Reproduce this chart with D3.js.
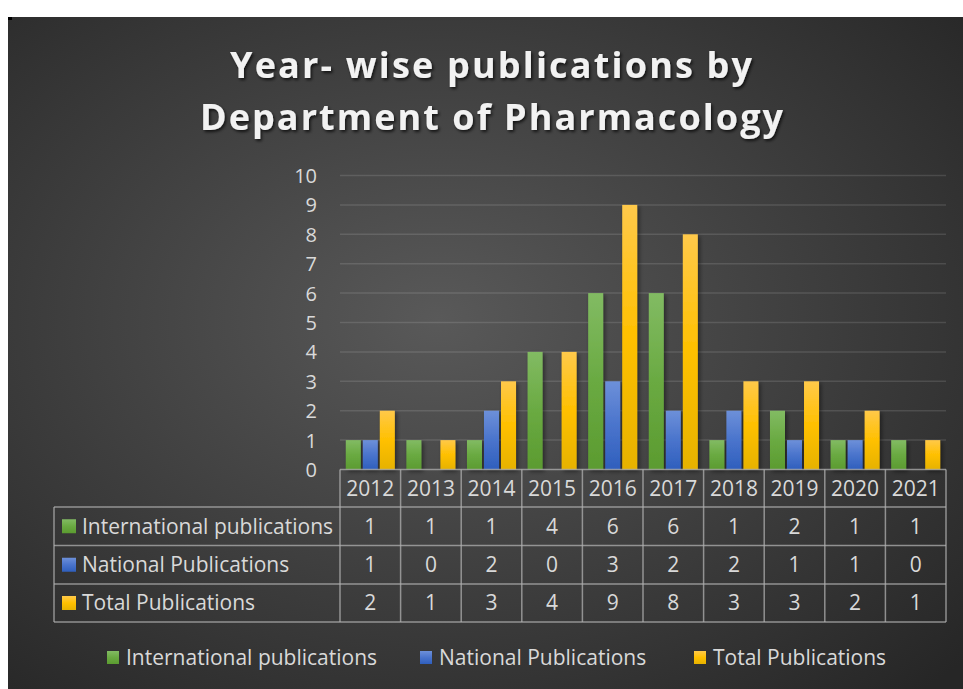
<!DOCTYPE html>
<html><head><meta charset="utf-8">
<script src="https://cdn.jsdelivr.net/npm/d3@7"></script>
<style>
html,body{margin:0;padding:0;background:#fff;}
svg{display:block;}
text{font-family:"Open Sans", Lato, sans-serif;}
</style></head>
<body>
<script>
const years = ["2012","2013","2014","2015","2016","2017","2018","2019","2020","2021"];
const seriesNames = ["International publications","National Publications","Total Publications"];
const international = [1,1,1,4,6,6,1,2,1,1];
const national = [1,0,2,0,3,2,2,1,1,0];
const total = [2,1,3,4,9,8,3,3,2,1];
const yTicks = [0,1,2,3,4,5,6,7,8,9,10];
const titleLines = ["Year- wise publications by","Department of Pharmacology"];

const seriesValues = [international, national, total];
const W = 963, H = 689;
const svg = d3.select("body").append("svg").attr("width", W).attr("height", H);
const defs = svg.append("defs");

// background gradient
const bg = defs.append("radialGradient").attr("id","bg")
  .attr("cx","0.45").attr("cy","0.45").attr("r","0.75");
bg.append("stop").attr("offset","0").attr("stop-color","#595959");
bg.append("stop").attr("offset","1").attr("stop-color","#262626");

const colors = [
  ["#82bb63","#6aaa42","#5b9b30"],
  ["#6d90d9","#4a74cc","#2f5fbd"],
  ["#ffc94a","#ffc000","#e6b200"]
];
colors.forEach((c,i)=>{
  const g = defs.append("linearGradient").attr("id","g"+i).attr("x1",0).attr("y1",0).attr("x2",0).attr("y2",1);
  g.append("stop").attr("offset","0").attr("stop-color",c[0]);
  g.append("stop").attr("offset","0.5").attr("stop-color",c[1]);
  g.append("stop").attr("offset","1").attr("stop-color",c[2]);
});
const sh = defs.append("filter").attr("id","sh").attr("x","-20%").attr("y","-20%").attr("width","160%").attr("height","160%");
sh.append("feDropShadow").attr("dx",2).attr("dy",2).attr("stdDeviation",2).attr("flood-color","#000").attr("flood-opacity",0.45);
const tsh = defs.append("filter").attr("id","tsh").attr("x","-10%").attr("y","-30%").attr("width","120%").attr("height","160%");
tsh.append("feDropShadow").attr("dx",1.5).attr("dy",2).attr("stdDeviation",1.5).attr("flood-color","#000").attr("flood-opacity",0.7);

svg.append("rect").attr("x",8).attr("y",17).attr("width",W-8).attr("height",H-17).attr("fill","url(#bg)");
svg.append("rect").attr("x",8).attr("y",17).attr("width",4).attr("height",3).attr("fill","#000");

// title
const titleStart = [230, 200], titleLen = [522, 583], titleBase = [78, 130];
svg.selectAll("text.title").data(titleLines).join("text").attr("class","title")
  .attr("x",(d,i)=>titleStart[i]).attr("y",(d,i)=>titleBase[i])
  .attr("font-family","Lato, sans-serif")
  .attr("font-size",36).attr("font-weight","bold").attr("fill","#f2f2f2")
  .attr("textLength",(d,i)=>titleLen[i]).attr("lengthAdjust","spacing")
  .attr("filter","url(#tsh)")
  .text(d=>d);

// scales
const pLeft = 340, pRight = 946, pTop = 175.5, pBottom = 469.5;
const x0 = d3.scaleBand().domain(years).range([pLeft,pRight]).padding(0);
const x1 = d3.scaleBand().domain([0,1,2]).range([0,x0.bandwidth()]).paddingInner(0.118).paddingOuter(0.34);
const y = d3.scaleLinear().domain([0,10]).range([pBottom,pTop]);

// gridlines
svg.append("g").selectAll("line").data(yTicks.filter(t=>t>0)).join("line")
  .attr("x1",pLeft).attr("x2",pRight).attr("y1",d=>y(d)).attr("y2",d=>y(d))
  .attr("stroke","#ffffff").attr("stroke-opacity",0.12).attr("stroke-width",1.5);

// y axis labels
const yAxis = d3.axisLeft(y).tickValues(yTicks).tickSize(0).tickPadding(0).tickFormat(d3.format("d"));
const ya = svg.append("g").attr("transform",`translate(317,0)`).call(yAxis);
ya.select(".domain").remove();
ya.selectAll("text").attr("font-size",20).attr("fill","#d9d9d9").attr("font-family","'Open Sans', sans-serif").attr("dy","0.35em");

// bars
const flat = [];
years.forEach((yr,i)=>seriesValues.forEach((arr,s)=>flat.push({yr,s,v:arr[i]})));
svg.append("g").selectAll("rect").data(flat.filter(d=>d.v>0)).join("rect")
  .attr("x",d=>x0(d.yr)+x1(d.s)).attr("width",x1.bandwidth())
  .attr("y",d=>y(d.v)).attr("height",d=>y(0)-y(d.v))
  .attr("fill",d=>`url(#g${d.s})`).attr("filter","url(#sh)");

// data table
const rowTop = [469.5, 507, 545.5, 584, 622];
const tLeft = 54;
const lineColor = "#b0b0b0";
const fs = 21;
const tg = svg.append("g");
const tl = (ax,ay,bx,by)=>tg.append("line").attr("x1",ax).attr("y1",ay).attr("x2",bx).attr("y2",by)
  .attr("stroke",lineColor).attr("stroke-opacity",0.75).attr("stroke-width",1.5);
tl(pLeft,rowTop[0],pRight,rowTop[0]);
for(let r=1;r<rowTop.length;r++) tl(tLeft,rowTop[r],pRight,rowTop[r]);
tl(tLeft,rowTop[1],tLeft,rowTop[4]);
years.forEach(yr=>tl(x0(yr),rowTop[0],x0(yr),rowTop[4]));
tl(pRight,rowTop[0],pRight,rowTop[4]);

tg.selectAll("text.yr").data(years).join("text").attr("class","yr")
  .attr("x",d=>x0(d)+x0.bandwidth()/2).attr("y",(rowTop[0]+rowTop[1])/2).attr("dy","0.35em")
  .attr("text-anchor","middle").attr("font-size",fs).attr("fill","#d9d9d9").text(d=>d);

seriesNames.forEach((name,s)=>{
  const cy = (rowTop[s+1]+rowTop[s+2])/2;
  tg.append("rect").attr("x",62).attr("y",cy-7).attr("width",14).attr("height",14).attr("fill",`url(#g${s})`);
  tg.append("text").attr("x",82).attr("y",cy).attr("dy","0.35em").attr("font-size",fs).attr("fill","#d9d9d9").text(name);
  tg.selectAll("text.v"+s).data(seriesValues[s]).join("text").attr("class","v"+s)
    .attr("x",(d,i)=>x0(years[i])+x0.bandwidth()/2).attr("y",cy).attr("dy","0.35em")
    .attr("text-anchor","middle").attr("font-size",fs).attr("fill","#d9d9d9").text(d=>d);
});

// legend
const legX = [107, 420, 694];
const lg = svg.append("g");
seriesNames.forEach((name,s)=>{
  lg.append("rect").attr("x",legX[s]).attr("y",651).attr("width",12).attr("height",13).attr("fill",`url(#g${s})`);
  lg.append("text").attr("x",legX[s]+19).attr("y",658).attr("dy","0.35em").attr("font-size",fs).attr("fill","#d9d9d9").text(name);
});
</script>
</body></html>
